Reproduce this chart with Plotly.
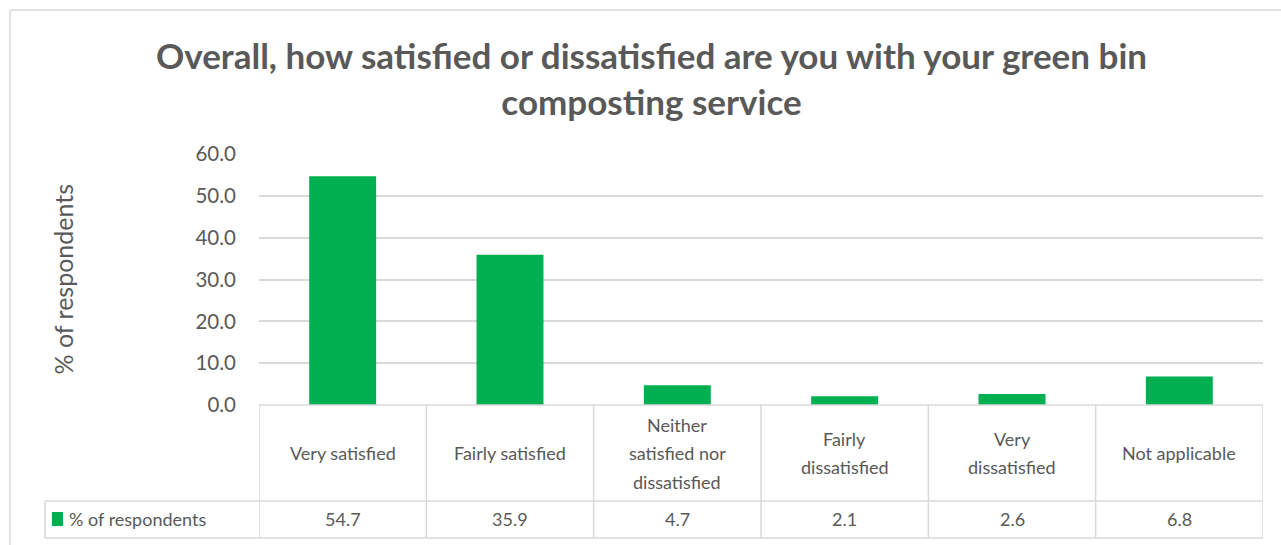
import plotly.graph_objects as go

# Survey responses: share of respondents per satisfaction level
categories = ["Very satisfied", "Fairly satisfied", "Neither satisfied nor dissatisfied",
              "Fairly dissatisfied", "Very dissatisfied", "Not applicable"]
cat_lines = [["Very satisfied"], ["Fairly satisfied"], ["Neither", "satisfied nor", "dissatisfied"],
             ["Fairly", "dissatisfied"], ["Very", "dissatisfied"], ["Not applicable"]]
values = [54.7, 35.9, 4.7, 2.1, 2.6, 6.8]
series_name = "% of respondents"
title_text = "Overall, how satisfied or dissatisfied are you with your green bin<br>composting service"
y_ticks = [0, 10, 20, 30, 40, 50, 60]

GREEN = "#00B050"
TEXT = "#595959"
GRID = "#D9D9D9"
FONT = "Lato, 'Open Sans', sans-serif"

W, H = 1281, 545
L, R, T, B = 259, 18, 154, 140
plot_w = W - L - R
plot_h = H - T - B


def py(pixel_y):
    """Convert a page pixel row to paper y."""
    return (H - B - pixel_y) / plot_h


def px(pixel_x):
    """Convert a page pixel column to paper x."""
    return (pixel_x - L) / plot_w


x_idx = list(range(len(categories)))

fig = go.Figure(go.Bar(
    x=x_idx, y=values, name=series_name,
    marker=dict(color=GREEN, line=dict(width=0)),
    hovertext=categories, showlegend=False,
))

row1_bot = py(501)
row2_bot = py(538)
leg_left = px(45)

shapes = []
# data-table cell borders
for i in range(len(categories) + 1):
    shapes.append(dict(type="line", xref="x", yref="paper", x0=i - 0.5, x1=i - 0.5,
                       y0=0, y1=row2_bot, line=dict(color=GRID, width=1.5)))
shapes.append(dict(type="line", xref="paper", yref="paper", x0=0, x1=1, y0=0, y1=0,
                   line=dict(color=GRID, width=1.5)))
for yy in (row1_bot, row2_bot):
    shapes.append(dict(type="line", xref="paper", yref="paper", x0=leg_left, x1=1,
                       y0=yy, y1=yy, line=dict(color=GRID, width=1.5)))
shapes.append(dict(type="line", xref="paper", yref="paper", x0=leg_left, x1=leg_left,
                   y0=row1_bot, y1=row2_bot, line=dict(color=GRID, width=1.5)))
# legend key swatch
shapes.append(dict(type="rect", xref="paper", yref="paper", x0=px(52), x1=px(63),
                   y0=py(526), y1=py(512), fillcolor=GREEN, line=dict(width=0)))
# outer chart frame
shapes.append(dict(type="line", xref="paper", yref="paper", x0=px(10), x1=px(W + 5),
                   y0=py(10), y1=py(10), line=dict(color=GRID, width=1.5)))
shapes.append(dict(type="line", xref="paper", yref="paper", x0=px(10), x1=px(10),
                   y0=py(10), y1=py(H + 5), line=dict(color=GRID, width=1.5)))

annotations = []
LINE_STEP = 28.5  # pixel spacing between wrapped header lines
HDR_CENTER = 453
VAL_CENTER = 519
for i, (lines, v) in enumerate(zip(cat_lines, values)):
    n = len(lines)
    for k, line in enumerate(lines):
        cy = HDR_CENTER + (k - (n - 1) / 2) * LINE_STEP
        annotations.append(dict(x=i, y=py(cy), xref="x", yref="paper", text=line,
                                showarrow=False, font=dict(size=18, color=TEXT, family=FONT),
                                xanchor="center", yanchor="middle"))
    annotations.append(dict(x=i, y=py(VAL_CENTER), xref="x", yref="paper", text=f"{v:.1f}",
                            showarrow=False, font=dict(size=18, color=TEXT, family=FONT),
                            xanchor="center", yanchor="middle"))
annotations.append(dict(x=px(67), y=py(VAL_CENTER), xref="paper", yref="paper", text=series_name,
                        showarrow=False, font=dict(size=18, color=TEXT, family=FONT),
                        xanchor="left", yanchor="middle"))
# y-axis title
annotations.append(dict(x=px(62), y=0.5, xref="paper", yref="paper", text=series_name,
                        textangle=-90, showarrow=False,
                        font=dict(size=25, color=TEXT, family=FONT),
                        xanchor="center", yanchor="middle"))
# chart title
annotations.append(dict(x=px(651), y=py(78), xref="paper", yref="paper",
                        text=f"<b>{title_text}</b>", showarrow=False,
                        font=dict(size=35, color=TEXT, family=FONT), align="center",
                        xanchor="center", yanchor="middle"))

fig.update_layout(
    width=W, height=H,
    margin=dict(l=L, r=R, t=T, b=B),
    paper_bgcolor="white", plot_bgcolor="white",
    bargap=0.6,
    xaxis=dict(range=[-0.5, len(categories) - 0.5], showticklabels=False, showgrid=False,
               zeroline=False, showline=False, fixedrange=True),
    yaxis=dict(range=[0, 60], tickvals=y_ticks, ticktext=[f"{t:.1f}" for t in y_ticks],
               showgrid=True, gridcolor=GRID, gridwidth=1.5, zeroline=False, showline=False,
               ticks="", ticklabelstandoff=22,
               tickfont=dict(size=20.5, color=TEXT, family=FONT), fixedrange=True),
    shapes=shapes, annotations=annotations,
)

fig.write_html("out.html")
